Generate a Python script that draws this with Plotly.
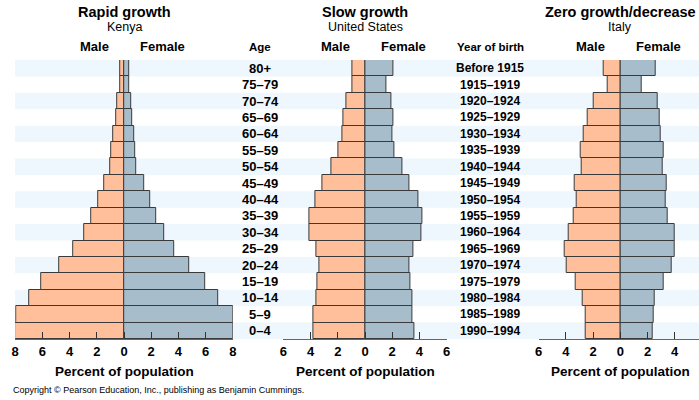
import plotly.graph_objects as go

# Age groups, top to bottom
age_groups = ["80+", "75–79", "70–74", "65–69", "60–64", "55–59", "50–54", "45–49",
              "40–44", "35–39", "30–34", "25–29", "20–24", "15–19", "10–14", "5–9", "0–4"]
birth_years = ["Before 1915", "1915–1919", "1920–1924", "1925–1929", "1930–1934",
               "1935–1939", "1940–1944", "1945–1949", "1950–1954", "1955–1959",
               "1960–1964", "1965–1969", "1970–1974", "1975–1979", "1980–1984",
               "1985–1989", "1990–1994"]

kenya_male = [0.25, 0.3, 0.5, 0.6, 0.8, 0.93, 1.05, 1.42, 1.9, 2.4, 2.95, 3.75, 4.75, 6.1, 7.0, 7.95, 8.0]
kenya_female = [0.37, 0.4, 0.5, 0.6, 0.75, 0.8, 0.93, 1.47, 1.96, 2.4, 2.94, 3.68, 4.8, 5.96, 6.96, 8.0, 8.0]

us_male = [0.9, 0.95, 1.39, 1.61, 1.68, 1.98, 2.44, 3.12, 3.68, 4.1, 4.07, 3.54, 3.37, 3.49, 3.56, 3.76, 3.83]
us_female = [2.07, 1.54, 1.95, 2.07, 2.02, 2.15, 2.73, 3.29, 3.9, 4.22, 4.15, 3.54, 3.29, 3.34, 3.46, 3.49, 3.63]

italy_male = [1.25, 0.9, 1.93, 2.4, 2.7, 2.94, 2.82, 3.38, 3.21, 3.4, 3.82, 4.12, 3.97, 3.31, 2.74, 2.52, 2.55]
italy_female = [2.62, 1.54, 2.77, 2.87, 3.0, 3.16, 3.11, 3.43, 3.36, 3.5, 3.97, 4.02, 3.8, 3.19, 2.52, 2.43, 2.4]

titles = ["Rapid growth", "Slow growth", "Zero growth/decrease"]
countries = ["Kenya", "United States", "Italy"]

W, H = 699, 400
MALE = "#ffbf9a"
FEMALE = "#a8bdcc"
EDGE = "#3a3a3a"
STRIPE = "#eef7fd"
FONT = "Liberation Sans, Arial, Helvetica, sans-serif"

n = len(age_groups)
ypos = [n - 1 - i for i in range(n)]  # top row highest

fig = go.Figure()

panels = [
    ("x", kenya_male, kenya_female),
    ("x2", us_male, us_female),
    ("x3", italy_male, italy_female),
]
for xa, m, f in panels:
    fig.add_trace(go.Bar(y=ypos, x=[-v for v in m], orientation="h", xaxis=xa, yaxis="y",
                         marker=dict(color=MALE, line=dict(color=EDGE, width=1)),
                         width=1, showlegend=False, hoverinfo="skip"))
    fig.add_trace(go.Bar(y=ypos, x=f, orientation="h", xaxis=xa, yaxis="y",
                         marker=dict(color=FEMALE, line=dict(color=EDGE, width=1)),
                         width=1, showlegend=False, hoverinfo="skip"))

PX = 13.6
def dom(center, lo, hi):
    return [max(0, (center + lo * PX) / W), min(1, (center + hi * PX) / W)]

kenya_c, us_c, italy_c = 124, 365, 620.3
y_bottom, y_top = 339, 60
ydom = [(H - y_bottom) / H, (H - y_top) / H]

def xaxis_cfg(center, lo, hi, ticks):
    return dict(domain=dom(center, lo, hi), range=[lo, hi], anchor="y",
                showline=True, linecolor="#666", linewidth=1,
                ticks="inside", ticklen=7, tickcolor="#333", tickwidth=1,
                tickvals=ticks, ticktext=[str(abs(t)) for t in ticks],
                tickfont=dict(family=FONT, size=13, color="#000", weight="bold"),
                showgrid=False, zeroline=False, fixedrange=True, automargin=False)

italy_hi = (W - italy_c) / PX
fig.update_layout(
    width=W, height=H, margin=dict(l=0, r=0, t=0, b=0, pad=0),
    paper_bgcolor="white", plot_bgcolor="rgba(0,0,0,0)",
    barmode="relative", bargap=0,
    xaxis=xaxis_cfg(kenya_c, -8, 8, [-8, -6, -4, -2, 0, 2, 4, 6, 8]),
    xaxis2=xaxis_cfg(us_c, -6, 6, [-6, -4, -2, 0, 2, 4, 6]),
    xaxis3=xaxis_cfg(italy_c, -6, italy_hi, [-6, -4, -2, 0, 2, 4, 6]),
    yaxis=dict(domain=ydom, range=[-0.5, n - 0.5], visible=False, fixedrange=True,
               automargin=False),
)

# stripes
for i in range(0, n, 2):
    fig.add_shape(type="rect", xref="paper", yref="y", x0=15 / W, x1=1,
                  y0=i - 0.5, y1=i + 0.5, fillcolor=STRIPE, line=dict(width=0), layer="below")

def ann(text, px, py, size, bold=True, xanchor="center"):
    fig.add_annotation(text=text, x=px / W, y=1 - py / H, xref="paper", yref="paper",
                       showarrow=False, xanchor=xanchor, yanchor="middle",
                       font=dict(family=FONT, size=size, color="#000",
                                 weight="bold" if bold else "normal"))

centers = [kenya_c, us_c, italy_c]
for c, t, country in zip(centers, titles, countries):
    ann(t, c, 11.5, 14.5)
    ann(country, c, 26.5, 12.5, bold=False)
    ann("Male", c - 30, 47, 13)
    ann("Female", c + 38, 47, 13)
    ann("Percent of population", c, 371, 13.5)

ann("Age", 260, 47, 11.5)
ann("Year of birth", 490, 47, 11.5)

for i, (a, b) in enumerate(zip(age_groups, birth_years)):
    fig.add_annotation(text=a, x=260 / W, y=ypos[i], xref="paper", yref="y", showarrow=False,
                       xanchor="center", yanchor="middle",
                       font=dict(family=FONT, size=13, color="#000", weight="bold"))
    fig.add_annotation(text=b, x=490 / W, y=ypos[i], xref="paper", yref="y", showarrow=False,
                       xanchor="center", yanchor="middle",
                       font=dict(family=FONT, size=12, color="#000", weight="bold"))

ann("Copyright © Pearson Education, Inc., publishing as Benjamin Cummings.", 11, 390, 9,
    bold=False, xanchor="left")

fig.write_html("out.html", config={"displayModeBar": False},
               post_script="document.body.style.margin='0';")
